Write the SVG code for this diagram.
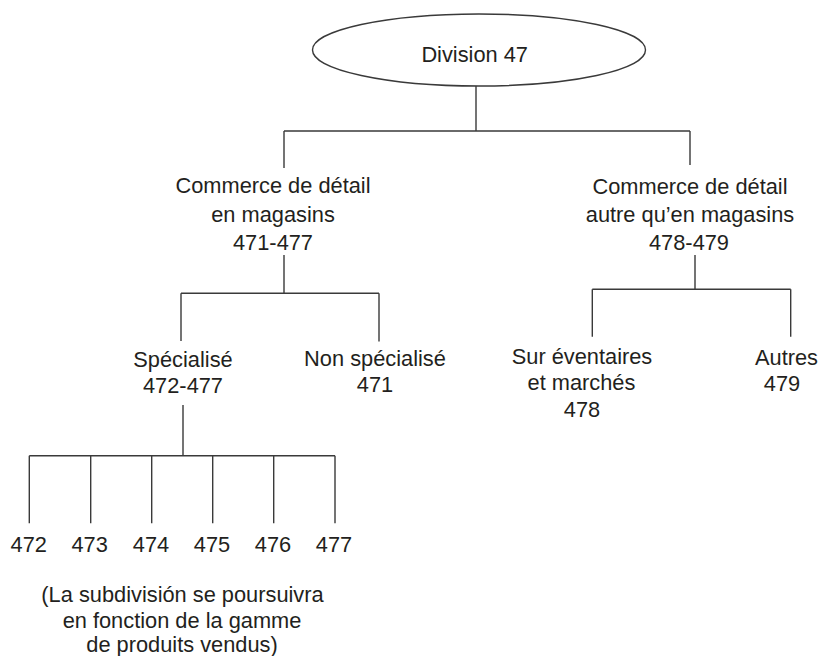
<svg xmlns="http://www.w3.org/2000/svg" width="822" height="656" viewBox="0 0 822 656">
<style>
text{font-family:"Liberation Sans",Arial,sans-serif;font-size:21.8px;fill:#231f20;text-anchor:middle}
.ln{stroke:#3a3a3a;stroke-width:1.4;fill:none}
</style>
<rect width="822" height="656" fill="#ffffff"/>
<g id="connectors" class="ln">
<path d="M476 86V131M284 131H690M284 131V168M690 131V165"/>
<path d="M284 255V293.3M181 293.3H379M181 293.3V341M379 293.3V341.5"/>
<path d="M183 405V455.7M29.3 455.7H335M29.3 455.7V523.3M90.7 455.7V523.3M151.7 455.7V523.3M212.7 455.7V523.3M273.7 455.7V523.3M335 455.7V523.3"/>
<path d="M695 255V289.3M592.3 289.3H790.7M592.3 289.3V336.7M790.7 289.3V336.7"/>
</g>
<g id="n-division47">
<ellipse cx="479" cy="50" rx="166.5" ry="36" class="ln"/>
<text x="474.7" y="62">Division 47</text>
</g>
<g id="n-en-magasins">
<text x="273" y="193">Commerce de détail</text>
<text x="273" y="221.5">en magasins</text>
<text x="273" y="250">471-477</text>
</g>
<g id="n-autre">
<text x="690" y="193.5">Commerce de détail</text>
<text x="690" y="222">autre qu’en magasins</text>
<text x="689" y="250">478-479</text>
</g>
<g id="n-specialise">
<text x="183" y="366.7">Spécialisé</text>
<text x="183" y="392.7">472-477</text>
</g>
<g id="n-non-specialise">
<text x="375" y="365.5">Non spécialisé</text>
<text x="375" y="392">471</text>
</g>
<g id="n-eventaires">
<text x="582" y="364">Sur éventaires</text>
<text x="581.5" y="389.5">et marchés</text>
<text x="582" y="416.5">478</text>
</g>
<g id="n-autres">
<text x="786.5" y="365">Autres</text>
<text x="782" y="390.5">479</text>
</g>
<g id="n-472"><text x="28.8" y="551.7">472</text></g>
<g id="n-473"><text x="89.7" y="551.7">473</text></g>
<g id="n-474"><text x="151" y="551.7">474</text></g>
<g id="n-475"><text x="212" y="551.7">475</text></g>
<g id="n-476"><text x="273" y="551.7">476</text></g>
<g id="n-477"><text x="334" y="551.7">477</text></g>
<g id="caption">
<text x="182.5" y="601.5">(La subdivisión se poursuivra</text>
<text x="182" y="627.5">en fonction de la gamme</text>
<text x="182" y="652">de produits vendus)</text>
</g>
</svg>
